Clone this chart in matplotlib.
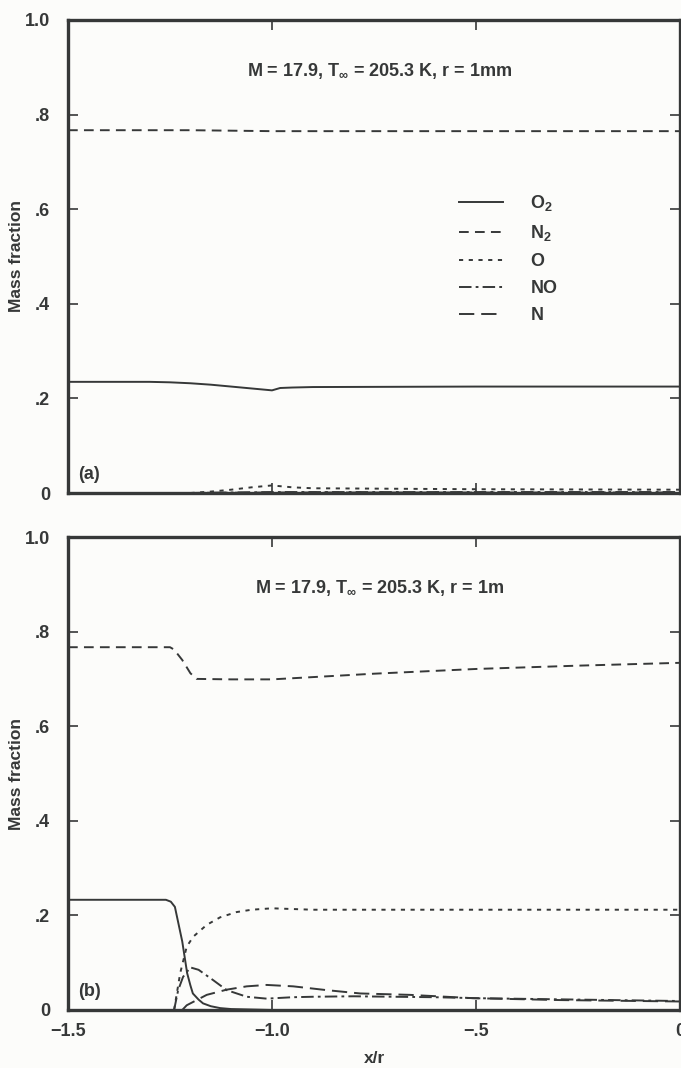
import matplotlib
matplotlib.use("Agg")
import matplotlib.pyplot as plt

plt.rcParams['font.family'] = ['Liberation Sans', 'DejaVu Sans']
plt.rcParams['font.weight'] = 'bold'
plt.rcParams['mathtext.fontset'] = 'custom'
plt.rcParams['mathtext.rm'] = 'Liberation Sans:bold'
plt.rcParams['mathtext.it'] = 'Liberation Sans:bold'
plt.rcParams['mathtext.bf'] = 'Liberation Sans:bold'
plt.rcParams['mathtext.default'] = 'rm'
plt.rcParams['lines.scale_dashes'] = False

# ---------------- data ----------------
species = ["O$_2$", "N$_2$", "O", "NO", "N"]
panel_titles = ["M = 17.9, T$_\\infty$ = 205.3 K, r = 1mm",
                "M = 17.9, T$_\\infty$ = 205.3 K, r = 1m"]
panel_tags = ["(a)", "(b)"]
xticks = [-1.5, -1.0, -0.5, 0.0]
xticklabels = ["\u22121.5", "\u22121.0", "\u2212.5", "0"]
yticks = [0.0, 0.2, 0.4, 0.6, 0.8, 1.0]
yticklabels = ["0", ".2", ".4", ".6", ".8", "1.0"]

# panel (a): r = 1 mm
a_o2_x = [-1.5, -1.4, -1.3, -1.25, -1.2, -1.15, -1.1, -1.05, -1.0, -0.98, -0.95, -0.9, -0.5, 0.0]
a_o2_y = [0.235, 0.235, 0.235, 0.234, 0.232, 0.229, 0.225, 0.221, 0.217, 0.222, 0.223, 0.224, 0.225, 0.225]
a_n2_x = [-1.5, -1.2, -1.0, -0.5, 0.0]
a_n2_y = [0.767, 0.767, 0.765, 0.765, 0.765]
a_o_x = [-1.2, -1.15, -1.1, -1.05, -1.0, -0.95, -0.9, -0.5, 0.0]
a_o_y = [0.0, 0.003, 0.007, 0.012, 0.016, 0.012, 0.010, 0.008, 0.007]
a_no_x = [-1.2, -1.0, -0.5, 0.0]
a_no_y = [0.0, 0.002, 0.002, 0.002]
a_n_x = [-1.2, -1.0, -0.5, 0.0]
a_n_y = [0.0, 0.001, 0.001, 0.001]

# panel (b): r = 1 m
b_o2_x = [-1.5, -1.26, -1.248, -1.238, -1.22, -1.208, -1.2, -1.194, -1.18, -1.169, -1.15, -1.127, -1.1, -1.05, -1.0, 0.0]
b_o2_y = [0.233, 0.233, 0.229, 0.218, 0.145, 0.078, 0.052, 0.035, 0.022, 0.014, 0.008, 0.004, 0.002, 0.001, 0.0, 0.0]
b_n2_x = [-1.5, -1.25, -1.24, -1.22, -1.2, -1.185, -1.1, -1.0, -0.75, -0.5, -0.25, 0.0]
b_n2_y = [0.767, 0.767, 0.762, 0.740, 0.712, 0.700, 0.699, 0.699, 0.711, 0.721, 0.728, 0.734]
b_o_x = [-1.24, -1.225, -1.209, -1.193, -1.16, -1.127, -1.087, -1.05, -1.0, -0.9, -0.5, 0.0]
b_o_y = [0.0, 0.078, 0.134, 0.155, 0.180, 0.196, 0.207, 0.212, 0.215, 0.212, 0.212, 0.212]
b_no_x = [-1.24, -1.23, -1.218, -1.2, -1.18, -1.144, -1.111, -1.062, -1.013, -0.95, -0.9, -0.8, -0.7, -0.6, -0.5, -0.25, 0.0]
b_no_y = [0.0, 0.042, 0.070, 0.090, 0.085, 0.063, 0.042, 0.028, 0.024, 0.027, 0.028, 0.029, 0.028, 0.027, 0.025, 0.022, 0.019]
b_n_x = [-1.22, -1.209, -1.16, -1.111, -1.062, -1.013, -0.948, -0.866, -0.784, -0.662, -0.507, -0.294, 0.0]
b_n_y = [0.0, 0.010, 0.032, 0.043, 0.050, 0.053, 0.050, 0.042, 0.035, 0.032, 0.025, 0.021, 0.018]

panels = [
    [(a_o2_x, a_o2_y), (a_n2_x, a_n2_y), (a_o_x, a_o_y), (a_no_x, a_no_y), (a_n_x, a_n_y)],
    [(b_o2_x, b_o2_y), (b_n2_x, b_n2_y), (b_o_x, b_o_y), (b_no_x, b_no_y), (b_n_x, b_n_y)],
]

# ---------------- style ----------------
ink = "#363838"
bg = "#fcfcfa"
lw = 1.4
styles = [
    dict(linestyle="-"),
    dict(linestyle=(0, (7, 4.5))),
    dict(linestyle=(0, (3, 4))),
    dict(linestyle=(0, (9, 3, 2, 3))),
    dict(linestyle=(0, (11, 5))),
]

fig = plt.figure(figsize=(6.81, 10.68), dpi=100, facecolor=bg)
W, H = 681, 1068
ax_boxes = [(68, 20, 680, 493), (68, 537, 680, 1010)]

for i, (l, t, r, b) in enumerate(ax_boxes):
    ax = fig.add_axes([l / W, 1 - b / H, (r - l) / W, (b - t) / H])
    ax.set_facecolor(bg)
    handles = []
    for (xs, ys), st, name in zip(panels[i], styles, species):
        ln, = ax.plot(xs, ys, color=ink, lw=lw, label=name, clip_on=True, **st)
        handles.append(ln)
    ax.set_xlim(-1.5, 0.0)
    ax.set_ylim(0.0, 1.0)
    ax.set_xticks(xticks)
    ax.set_yticks(yticks)
    ax.set_yticklabels(yticklabels)
    if i == 1:
        ax.set_xticklabels(xticklabels)
        ax.set_xlabel("x/r", fontsize=12.5, fontweight="bold", color=ink, labelpad=8)
    else:
        ax.set_xticklabels([])
    ax.set_ylabel("Mass fraction", fontsize=12.5, fontweight="bold", color=ink)
    ax.yaxis.set_label_coords(-(68 - 24) / 612, 0.5)
    ax.tick_params(direction="in", length=7, width=1.2, color=ink, top=True, right=True,
                   labelsize=13, labelcolor=ink)
    ax.tick_params(axis="y", pad=13)
    ax.tick_params(axis="x", pad=9)
    for s in ax.spines.values():
        s.set_linewidth(2.4)
        s.set_color(ink)
    ax.text(0.51, 0.893, panel_titles[i], transform=ax.transAxes, ha="center", va="center",
            fontsize=13, fontweight="bold", color=ink)
    ax.text(0.017, 0.04, panel_tags[i], transform=ax.transAxes, ha="left", va="center",
            fontsize=13, fontweight="bold", color=ink)
    if i == 0:
        leg = ax.legend(handles=handles, loc="upper left", bbox_to_anchor=(0.639, 0.634),
                        frameon=False, fontsize=13, handlelength=2.45, handletextpad=1.5,
                        labelspacing=0.55, borderpad=0, borderaxespad=0)
        for txt in leg.get_texts():
            txt.set_color(ink)

fig.savefig("out.png", dpi=100, facecolor=bg)
